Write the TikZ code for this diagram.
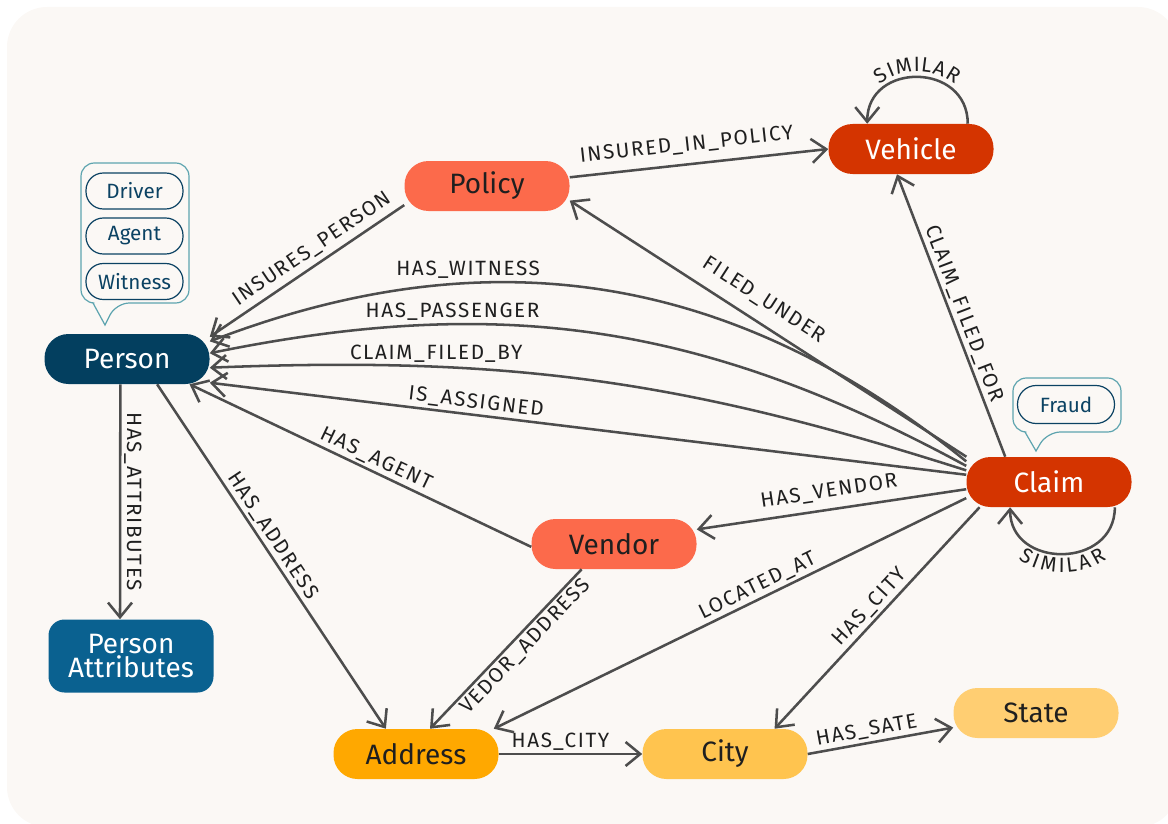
\documentclass[tikz,border=0pt]{standalone}
\usepackage{fontspec}
\setmainfont{Fira Sans}
\newfontfamily\lblfont[LetterSpace=8]{Fira Sans}
\usetikzlibrary{arrows.meta,positioning,decorations.text}

\definecolor{bgcream}{HTML}{FBF8F5}
\definecolor{personblue}{HTML}{033F5F}
\definecolor{attrblue}{HTML}{0A6190}
\definecolor{coral}{HTML}{FC6A4B}
\definecolor{rust}{HTML}{D43400}
\definecolor{amber}{HTML}{FFA800}
\definecolor{citygold}{HTML}{FFC44F}
\definecolor{stategold}{HTML}{FFCE72}
\definecolor{calloutteal}{HTML}{5DA4AF}
\definecolor{tagnavy}{HTML}{0B4263}
\definecolor{edgegray}{HTML}{4D4D4D}
\definecolor{labelgray}{HTML}{1F1F1F}

\tikzset{
	entity/.style={rounded corners=18pt, minimum width=123.75pt, minimum height=37.5pt, inner sep=0pt, text=labelgray, font=\fontsize{21}{24}\selectfont},
	rel/.style={draw=edgegray, line width=1.9pt, -{Straight Barb[length=11pt, width=18pt]}},
	lbl/.style={font=\lblfont\fontsize{15.5}{17}\selectfont, text=labelgray, inner sep=2pt},
	tag/.style={draw=tagnavy, line width=0.9pt, text=tagnavy, rounded corners=13pt, minimum width=72.75pt, minimum height=27pt, inner sep=0pt, font=\fontsize{15.5}{17}\selectfont},
	callout/.style={draw=calloutteal, line width=0.9pt, fill=bgcream},
	looptext/.style={decorate, decoration={text along path, text={|\fontsize{15.5}{17}\selectfont\color{labelgray}|SIMILAR}, text align=center, raise=#1}},
}

\begin{document}
\begin{tikzpicture}[x=0.75pt, y=-0.75pt]
	\useasboundingbox (0,0) rectangle (1168,824);
	\fill[bgcream, rounded corners=30pt] (7,7) rectangle (1178,827);

	\node[entity, fill=personblue, text=white] (person) at (127,359) {Person};
	\node[entity, fill=attrblue, text=white, minimum height=54.75pt, rounded corners=12pt, align=center, font=\fontsize{21}{17.5}\selectfont] (pattr) at (131,656) {Person\\Attributes};
	\node[entity, fill=coral] (policy) at (487,186) {Policy};
	\node[entity, fill=rust, text=white] (vehicle) at (911,149) {Vehicle};
	\node[entity, fill=rust, text=white] (claim) at (1049,482) {Claim};
	\node[entity, fill=coral] (vendor) at (614,544) {Vendor};
	\node[entity, fill=amber] (address) at (416,754) {Address};
	\node[entity, fill=citygold] (city) at (725,754) {City};
	\node[entity, fill=stategold] (state) at (1036,713) {State};

	\draw[callout] (105,325) -- (93,303) {[rounded corners=10pt] -- (81,303) -- (81,163) -- (189,163) -- (189,303) -- (116,303)} -- cycle;
	\node[tag] (driver) at (134.5,191) {Driver};
	\node[tag] (agent) at (134.5,236) {Agent};
	\node[tag] (witness) at (134.5,281.5) {Witness};

	\draw[callout] (1036,451) -- (1025,432) {[rounded corners=10pt] -- (1013,432) -- (1013,378) -- (1121,378) -- (1121,432) -- (1047,432)} -- cycle;
	\node[tag, minimum height=28.5pt, rounded corners=14pt] (fraud) at (1066,404.5) {Fraud};

	\draw[rel] (policy.193) -- node[lbl, sloped, above=2pt, pos=.43] (linsp) {INSURES\_PERSON} (person.15);
	\draw[rel] (claim.166) to[bend right=30] node[lbl, pos=.68, above=1pt] (lwit) {HAS\_WITNESS} (person.12);
	\draw[rel] (claim.169) to[bend right=20] node[lbl, pos=.7, above] (lpas) {HAS\_PASSENGER} (person.4);
	\draw[rel] (claim.172) to[bend right=10] node[lbl, pos=.72, above] (lcfb) {CLAIM\_FILED\_BY} (person.-6);
	\draw[rel] (claim.175) -- node[lbl, sloped, above, pos=.65] (lasg) {IS\_ASSIGNED} (person.-16);
	\draw[rel] (vendor.182) -- node[lbl, sloped, above, pos=.47] (lagt) {HAS\_AGENT} (person.-22);
	\draw[rel] (person.-40) -- node[lbl, sloped, above, pos=.46] (ladr) {HAS\_ADDRESS} (address.140);
	\draw[rel] ([xshift=-5pt]person.south) -- node[lbl, rotate=-90, anchor=south] (latt) {HAS\_ATTRIBUTES} ([xshift=-8.25pt]pattr.north);
	\draw[rel] (policy.6) -- node[lbl, sloped, above=5pt, pos=.46] (lipo) {INSURED\_IN\_POLICY} (vehicle.west);
	\draw[rel] (claim.163) -- node[lbl, sloped, above=7pt, pos=.54] (lfil) {FILED\_UNDER} (policy.-10);
	\draw[rel] (claim.150) -- node[lbl, sloped, above, pos=.49] (lcff) {CLAIM\_FILED\_FOR} (vehicle.241);
	\draw[rel] (claim.185) -- node[lbl, sloped, above=4pt, pos=.5] (lven) {HAS\_VENDOR} (vendor.10);
	\draw[rel] (vendor.218) -- node[lbl, sloped, below, pos=.43] (lvad) {VEDOR\_ADDRESS} (address.61);
	\draw[rel] (claim.191) -- node[lbl, sloped, above, pos=.43] (lloc) {LOCATED\_AT} (address.18);
	\draw[rel] (claim.200) -- node[lbl, sloped, above, pos=.49] (lclc) {HAS\_CITY} (city.27);
	\draw[rel] (address.east) -- node[lbl, above, pos=.43] (ladc) {HAS\_CITY} (city.west);
	\draw[rel] (city.east) -- node[lbl, sloped, above, pos=.42] (lcst) {HAS\_SATE} (state.190);
	\draw[rel] (vehicle.24) .. controls +(0,-62) and +(0,-62) .. (vehicle.150);
	\path[looptext=4pt] (vehicle.150) .. controls +(0,-62) and +(0,-62) .. (vehicle.24);
	\draw[rel] (claim.-21) .. controls +(0,62) and +(0,62) .. (claim.213);
	\path[looptext=-14pt] (claim.213) .. controls +(0,62) and +(0,62) .. (claim.-21);
\end{tikzpicture}
\end{document}
